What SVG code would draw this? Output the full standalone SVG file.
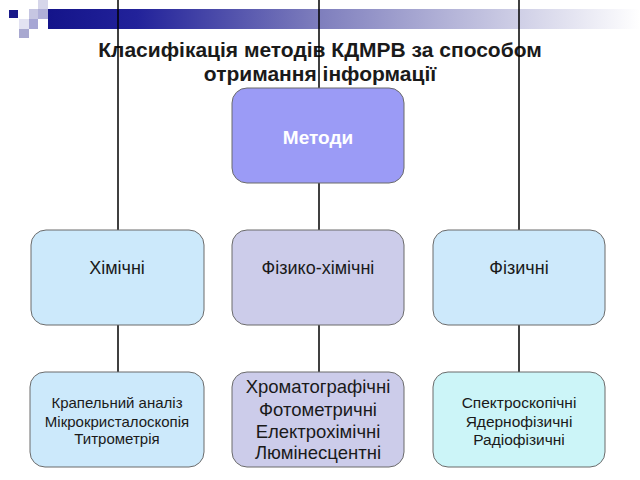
<svg xmlns="http://www.w3.org/2000/svg" width="640" height="480" viewBox="0 0 640 480">
<style>
.box{stroke:#6b6b6b;stroke-width:1}
.t{font-family:"Liberation Sans",Arial,sans-serif;fill:#1a1a1a;text-anchor:middle}
.conn line{stroke:#000;stroke-width:1.5}
</style>
<defs>
<linearGradient id="bar" x1="48" y1="0" x2="640" y2="0" gradientUnits="userSpaceOnUse">
<stop offset="0" stop-color="#14148a"/>
<stop offset="0.15" stop-color="#22229a"/>
<stop offset="0.45" stop-color="#7c7cbc"/>
<stop offset="0.68" stop-color="#b4b4d8"/>
<stop offset="1" stop-color="#ffffff"/>
</linearGradient>
</defs>
<rect width="640" height="480" fill="#fff"/>
<g id="decor">
<rect x="48" y="9" width="592" height="20" fill="url(#bar)"/>
<rect x="9" y="10" width="9" height="8" fill="#1a1a8a"/>
<rect x="38" y="0" width="10" height="9" fill="#d6d6ea"/>
<rect x="29" y="9" width="9" height="10" fill="#c6c6e2"/>
<rect x="38" y="9" width="10" height="10" fill="#b0b0d8"/>
<rect x="19" y="19" width="10" height="10" fill="#e2e2f2"/>
<rect x="29" y="19" width="9" height="10" fill="#a6a6d4"/>
<rect x="19" y="29" width="10" height="9" fill="#a8a8d0"/>
</g>
<g id="title" font-family="'Liberation Sans',Arial,sans-serif" font-weight="bold" font-size="21" fill="#1a1a1a" text-anchor="middle">
<text x="320" y="57">Класифікація методів КДМРВ за способом</text>
<text x="320" y="81">отримання інформації</text>
</g>
<g id="connectors" class="conn">
<line x1="118" y1="0" x2="118" y2="230"/>
<line x1="118" y1="325" x2="118" y2="372"/>
<line x1="319" y1="0" x2="319" y2="88"/>
<line x1="319" y1="183" x2="319" y2="230"/>
<line x1="319" y1="325" x2="319" y2="372"/>
<line x1="519" y1="0" x2="519" y2="230"/>
<line x1="519" y1="325" x2="519" y2="372"/>
</g>
<g id="metody">
<rect class="box" x="232" y="88" width="172" height="95" rx="15" fill="#9b9bf6"/>
<text x="318" y="144" font-family="'Liberation Sans',Arial,sans-serif" font-weight="bold" font-size="19" fill="#fff" text-anchor="middle">Методи</text>
</g>
<g id="khimichni">
<rect class="box" x="31" y="230" width="173" height="95" rx="15" fill="#cce9fb"/>
<text class="t" x="117" y="274" font-size="18">Хімічні</text>
</g>
<g id="fizkhim">
<rect class="box" x="232" y="230" width="172" height="95" rx="15" fill="#ccccea"/>
<text class="t" x="318" y="274" font-size="18">Фізико-хімічні</text>
</g>
<g id="fizychni">
<rect class="box" x="433" y="230" width="172" height="95" rx="15" fill="#cde9fb"/>
<text class="t" x="519" y="274" font-size="18">Фізичні</text>
</g>
<g id="khim-list">
<rect class="box" x="30" y="372" width="174" height="95" rx="15" fill="#cce9fb"/>
<text class="t" x="117" y="408" font-size="15">Крапельний аналіз</text>
<text class="t" x="117" y="427" font-size="15">Мікрокристалоскопія</text>
<text class="t" x="117" y="444" font-size="15">Титрометрія</text>
</g>
<g id="fizkhim-list">
<rect class="box" x="232" y="372" width="172" height="95" rx="15" fill="#ccccea"/>
<text class="t" x="318" y="393" font-size="18.5">Хроматографічні</text>
<text class="t" x="318" y="416" font-size="18.5">Фотометричні</text>
<text class="t" x="318" y="438" font-size="18.5">Електрохімічні</text>
<text class="t" x="318" y="459" font-size="18.5">Люмінесцентні</text>
</g>
<g id="fiz-list">
<rect class="box" x="433" y="372" width="172" height="95" rx="15" fill="#ccf5f8"/>
<text class="t" x="519" y="408" font-size="15.5">Спектроскопічні</text>
<text class="t" x="519" y="427" font-size="15.5">Ядернофізичні</text>
<text class="t" x="519" y="445" font-size="15.5">Радіофізичні</text>
</g>
</svg>
